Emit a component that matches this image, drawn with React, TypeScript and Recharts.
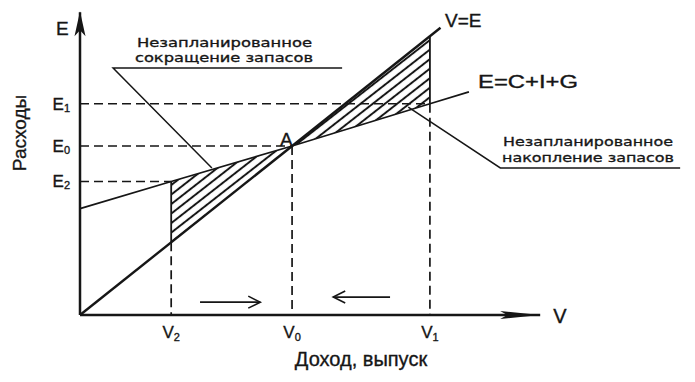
import { ComposedChart, Line, Area, XAxis, YAxis, ReferenceLine } from "recharts";

const FONT = '"Liberation Sans", Arial, sans-serif';
const NOTE_FONT = '"DejaVu Sans", Verdana, sans-serif';
const INK = "#161616";

// уровни дохода V и расходов E (условные единицы)
const vLevels = [2.15, 5, 8.25]; // V2, V0, V1
const vSubs = ["2", "0", "1"];
const eLevels = [3.95, 5, 6.25]; // E2, E0, E1
const eSubs = ["2", "0", "1"];

// линия V=E (45°)
const veV = [0, 8.5];
const veE = [0, 8.5];
// совокупные расходы E=C+I+G
const aeV = [0, 2.15, 5, 8.25, 9.17];
const aeE = [3.15, 3.95, 5, 6.25, 6.6];

// заштрихованная область между линиями
const hatchV = [2.15, 5, 8.25];
const hatchLow = [2.15, 5, 6.25];
const hatchHigh = [3.95, 5, 8.25];

// выноски к подписям
const cutV = [6.18, 0.78, 3.11];
const cutE = [7.31, 7.31, 4.35];
const accV = [7.74, 9.91, 14.15];
const accE = [6.15, 4.35, 4.35];

// оси и стрелки движения к равновесию
const axisXV = [0, 10.85];
const axisXE = [0, 0];
const axisYV = [0, 0];
const axisYE = [0, 8.96];
const arrowRV = [2.83, 4.25];
const arrowRE = [0.38, 0.38];
const arrowLV = [7.31, 5.97];
const arrowLE = [0.53, 0.53];

const pts = (vs: number[], es: number[]) => vs.map((v, i) => ({ v, e: es[i] }));

const hatchData = hatchV.map((v, i) => ({ v, band: [hatchLow[i], hatchHigh[i]] }));

const seg = (v1: number, e1: number, v2: number, e2: number) => [
  { x: v1, y: e1 },
  { x: v2, y: e2 },
];

// слегка утолщённый текст, как на скане
const ink = { fill: INK, stroke: INK, strokeWidth: 0.35 };

function head(kind: "up" | "right" | "chevR" | "chevL") {
  return (p: any) => {
    const key = `d-${kind}-${p.index}`;
    if (p.index !== 1) return <g key={key} />;
    const { cx, cy } = p;
    if (kind === "up")
      return (
        <g key={key}>
          <polygon points={`${cx},${cy - 1} ${cx - 5.5},${cy + 24} ${cx},${cy + 18} ${cx + 5.5},${cy + 24}`} fill={INK} />
          <text x={cx - 24} y={cy + 23} fontSize={19} fontFamily={FONT} {...ink}>E</text>
        </g>
      );
    if (kind === "right")
      return (
        <g key={key}>
          <polygon points={`${cx},${cy} ${cx - 40},${cy - 4} ${cx - 33},${cy} ${cx - 40},${cy + 4}`} fill={INK} />
          <text x={cx + 13} y={cy + 8} fontSize={20} fontFamily={FONT} {...ink}>V</text>
        </g>
      );
    const d = kind === "chevR" ? -1 : 1;
    return (
      <polyline
        key={key}
        points={`${cx + d * 12},${cy - 6} ${cx},${cy} ${cx + d * 12},${cy + 6}`}
        fill="none"
        stroke={INK}
        strokeWidth={1.6}
      />
    );
  };
}

const VTick = (p: any) => {
  const i = vLevels.indexOf(p.payload.value);
  return (
    <text x={p.x} y={p.y + 15} textAnchor="middle" fontSize={17} fontFamily={FONT} {...ink}>
      <tspan>V</tspan>
      <tspan fontSize={11} dy={3}>{vSubs[i]}</tspan>
    </text>
  );
};

const ETick = (p: any) => {
  const i = eLevels.indexOf(p.payload.value);
  return (
    <text x={p.x} y={p.y + 6} textAnchor="end" fontSize={17} fontFamily={FONT} {...ink}>
      <tspan>E</tspan>
      <tspan fontSize={11} dy={2}>{eSubs[i]}</tspan>
    </text>
  );
};

const dash = { stroke: INK, strokeWidth: 1.7, strokeDasharray: "9 5" };
const solid = { stroke: INK, strokeWidth: 1.8 };

export default function App() {
  return (
    <div style={{ position: "absolute", left: 0, top: 0, width: 695, height: 382, background: "#fff" }}>
      <ComposedChart width={695} height={382} margin={{ top: 0, right: 0, bottom: 0, left: 0 }}>
        <defs>
          <pattern id="hatch" patternUnits="userSpaceOnUse" width={12} height={7.5} patternTransform="rotate(-38)">
            <line x1={0} y1={3.75} x2={12} y2={3.75} stroke={INK} strokeWidth={2} />
          </pattern>
        </defs>
        <XAxis
          type="number"
          dataKey="v"
          domain={[0, 14.5]}
          ticks={vLevels}
          tick={VTick}
          axisLine={false}
          tickLine={false}
          height={67}
          interval={0}
        />
        <YAxis
          type="number"
          domain={[0, 9.32]}
          ticks={eLevels}
          tick={ETick}
          axisLine={false}
          tickLine={false}
          width={80}
          tickSize={8}
          tickMargin={2}
          interval={0}
        />

        <Area
          data={hatchData}
          dataKey="band"
          type="linear"
          fill="url(#hatch)"
          fillOpacity={1}
          stroke="none"
          isAnimationActive={false}
        />

        <ReferenceLine segment={seg(0, eLevels[2], vLevels[2], eLevels[2])} {...dash} />
        <ReferenceLine segment={seg(0, eLevels[1], vLevels[1], eLevels[1])} {...dash} />
        <ReferenceLine segment={seg(0, eLevels[0], vLevels[0], eLevels[0])} {...dash} />
        <ReferenceLine segment={seg(vLevels[0], hatchLow[0], vLevels[0], 0)} {...dash} />
        <ReferenceLine segment={seg(vLevels[1], eLevels[1], vLevels[1], 0)} {...dash} />
        <ReferenceLine segment={seg(vLevels[2], eLevels[2], vLevels[2], 0)} {...dash} />
        <ReferenceLine segment={seg(vLevels[0], hatchLow[0], vLevels[0], hatchHigh[0])} {...solid} />
        <ReferenceLine segment={seg(vLevels[2], hatchLow[2], vLevels[2], hatchHigh[2])} {...solid} />

        <Line data={pts(aeV, aeE)} dataKey="e" type="linear" stroke={INK} strokeWidth={1.8} dot={false} isAnimationActive={false} />
        <Line data={pts(veV, veE)} dataKey="e" type="linear" stroke={INK} strokeWidth={2.4} dot={false} isAnimationActive={false} />
        <Line data={pts(cutV, cutE)} dataKey="e" type="linear" stroke={INK} strokeWidth={1.5} dot={false} isAnimationActive={false} />
        <Line data={pts(accV, accE)} dataKey="e" type="linear" stroke={INK} strokeWidth={1.5} dot={false} isAnimationActive={false} />

        <Line data={pts(axisXV, axisXE)} dataKey="e" type="linear" stroke={INK} strokeWidth={2.5} dot={head("right")} isAnimationActive={false} />
        <Line data={pts(axisYV, axisYE)} dataKey="e" type="linear" stroke={INK} strokeWidth={2.5} dot={head("up")} isAnimationActive={false} />
        <Line data={pts(arrowRV, arrowRE)} dataKey="e" type="linear" stroke={INK} strokeWidth={1.6} dot={head("chevR")} isAnimationActive={false} />
        <Line data={pts(arrowLV, arrowLE)} dataKey="e" type="linear" stroke={INK} strokeWidth={1.6} dot={head("chevL")} isAnimationActive={false} />

        <text x={445} y={27} fontSize={19} fontFamily={FONT} {...ink}>V=E</text>
        <text x={478} y={88} fontSize={18} fontFamily={FONT} {...ink} textLength={100} lengthAdjust="spacingAndGlyphs">E=C+I+G</text>
        <text x={280} y={146} fontSize={19} fontFamily={FONT} {...ink}>A</text>

        <text x={137} y={47} fontSize={13} fontFamily={NOTE_FONT} {...ink} textLength={175} lengthAdjust="spacingAndGlyphs">Незапланированное</text>
        <text x={135} y={62} fontSize={13} fontFamily={NOTE_FONT} {...ink} textLength={178} lengthAdjust="spacingAndGlyphs">сокращение запасов</text>
        <text x={503} y={146} fontSize={13} fontFamily={NOTE_FONT} {...ink} textLength={170} lengthAdjust="spacingAndGlyphs">Незапланированное</text>
        <text x={502} y={162} fontSize={13} fontFamily={NOTE_FONT} {...ink} textLength={172} lengthAdjust="spacingAndGlyphs">накопление запасов</text>

        <text x={26} y={133} fontSize={19} fontFamily={FONT} {...ink} textAnchor="middle" transform="rotate(-90 26 133)">Расходы</text>
        <text x={361} y={366} fontSize={20} fontFamily={FONT} {...ink} textAnchor="middle">Доход, выпуск</text>
      </ComposedChart>
    </div>
  );
}
